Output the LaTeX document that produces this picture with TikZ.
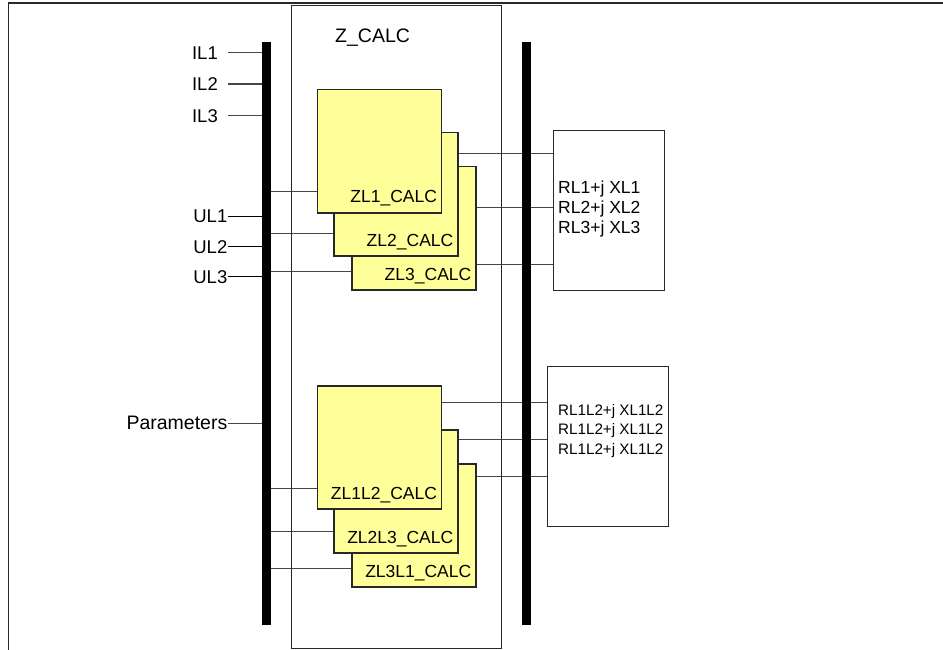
\documentclass[tikz,border=0pt]{standalone}
\usepackage{fontspec}
\setmainfont{Liberation Sans}
\usetikzlibrary{calc, positioning, backgrounds}
\definecolor{calcYellow}{RGB}{255,255,153}
\definecolor{wireGrey}{RGB}{70,70,70}
\definecolor{frameGrey}{RGB}{40,40,40}

\begin{document}
\begin{tikzpicture}[
  x=1pt, y=-1pt,
  font=\fontsize{17.5}{20}\selectfont,
  wire/.style={wireGrey, line width=1.1pt},
  bus/.style={black, line width=9pt},
  calcbox/.style={draw=frameGrey, fill=calcYellow, line width=1.5pt, anchor=north west,
    minimum width=124pt, minimum height=123pt, inner sep=0pt},
  calcname/.style={anchor=base east, inner sep=0pt, xshift=-5pt, yshift=10.5pt},
  siglabel/.style={anchor=east, inner sep=0pt, font=\fontsize{18.5}{20}\selectfont},
  resbox/.style={draw=frameGrey, line width=1.3pt, anchor=north west, inner sep=0pt},
  restext/.style={anchor=north west, align=left, inner sep=0pt},
]
\useasboundingbox (0,0) rectangle (943,650);

% --- Outer frame and Z_CALC block -----------------------------------
\draw[frameGrey, line width=1.3pt] (8.5,650) -- (8.5,3) -- (943,3);
\node[draw=frameGrey, line width=1.3pt, anchor=north west, inner sep=0pt,
  minimum width=210pt, minimum height=643pt] (zcalc) at (291,5) {};
\node[anchor=base west, inner sep=0pt, font=\fontsize{19.5}{20}\selectfont]
  (zcalcname) at ([xshift=44pt, yshift=-38pt]zcalc.north west) {Z\_CALC};

% --- Bus bars ---------------------------------------------------------
\coordinate (lbusTop) at (266.3,42);
\coordinate (lbusBot) at (266.3,625);
\coordinate (rbusTop) at (526.3,42);
\coordinate (rbusBot) at (526.3,625);

% --- Inputs -------------------------------------------------------------
\foreach \sig/\yy in {IL1/52.7, IL2/84, IL3/115.7} {
  \node[siglabel, inner xsep=10pt] (\sig) at (228,\yy) {\sig};
  \draw[wire] (\sig.east) -- (\sig.east -| lbusTop);
}
\foreach \sig/\yy in {UL1/216.7, UL2/246.7, UL3/276.7} {
  \node[siglabel] (\sig) at (227.5,\yy) {\sig};
  \draw[black, line width=1.1pt] (\sig.east) -- (\sig.east -| lbusTop);
}
\node[siglabel, font=\fontsize{19.5}{20}\selectfont] (param) at (227.5,423.3) {Parameters};
\draw[wire] (param.east) -- (param.east -| lbusTop);

% --- Result boxes -------------------------------------------------------
\node[resbox, minimum width=111pt, minimum height=160pt] (res1) at (553,130) {};
\node[restext] (res1txt) at (558,181) {RL1+j XL1\\RL2+j XL2\\RL3+j XL3};
\node[resbox, minimum width=121pt, minimum height=160pt] (res2) at (547,366) {};
\node[restext, font=\fontsize{15.2}{19.5}\selectfont] (res2txt) at (558,404)
  {RL1L2+j XL1L2\\RL1L2+j XL1L2\\RL1L2+j XL1L2};

% --- Calculation blocks (back to front) ---------------------------------
\node[calcbox] (zl3) at (351,166) {};
\node[calcbox] (zl2) at (333,132) {};
\node[calcbox] (zl1) at (316.7,89) {};
\node[calcbox] (zl31) at (351,463) {};
\node[calcbox] (zl23) at (333,429) {};
\node[calcbox] (zl12) at (316.7,385) {};

\node[calcname] (zl3txt) at (zl3.south east) {ZL3\_CALC};
\node[calcname] (zl2txt) at (zl2.south east) {ZL2\_CALC};
\node[calcname] (zl1txt) at (zl1.south east) {ZL1\_CALC};
\node[calcname] (zl31txt) at (zl31.south east) {ZL3L1\_CALC};
\node[calcname] (zl23txt) at (zl23.south east) {ZL2L3\_CALC};
\node[calcname] (zl12txt) at (zl12.south east) {ZL1L2\_CALC};

% wires, kept behind the blocks
\begin{scope}[on background layer]
\foreach \blk/\dy in {zl1/-40, zl2/-39.5, zl3/-43.5, zl12/-41, zl23/-40, zl31/-43.5}
  \draw[wire] ([yshift=\dy pt]\blk.west) -- ([yshift=\dy pt]\blk.west -| lbusTop);
\foreach \blk/\dy/\res in {zl1/-2.5/res1, zl2/-13/res1, zl3/-36.5/res1,
                          zl12/45/res2, zl23/51.5/res2, zl31/49/res2}
  \draw[wire] ([yshift=\dy pt]\blk.east) -- ([yshift=\dy pt]\blk.east -| \res.west);
\end{scope}

\draw[bus] (lbusTop) -- (lbusBot);
\draw[bus] (rbusTop) -- (rbusBot);
\end{tikzpicture}
\end{document}
